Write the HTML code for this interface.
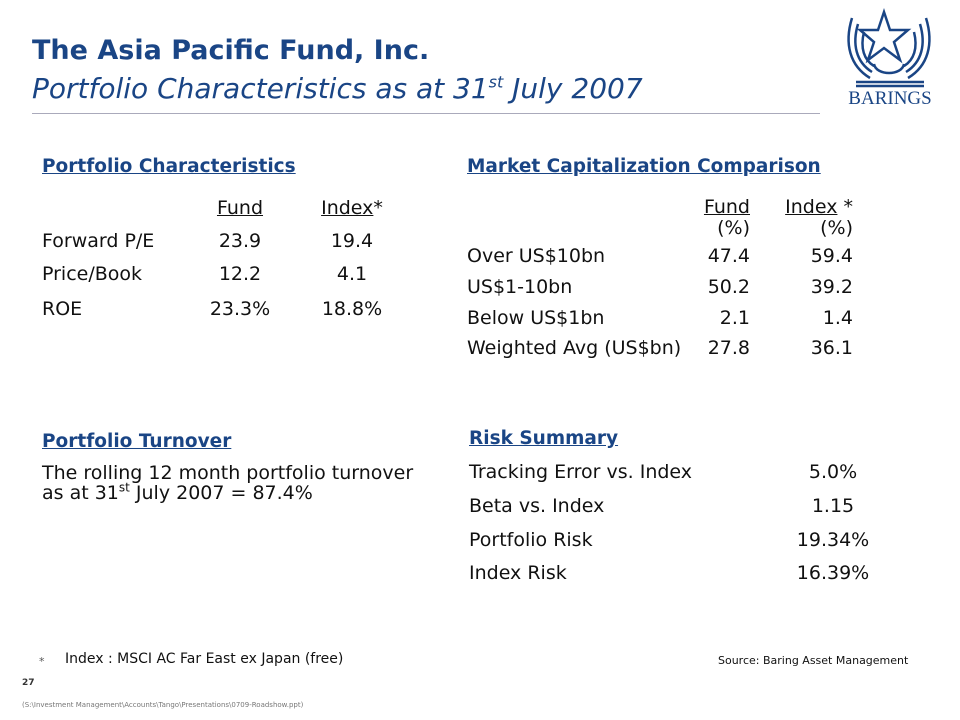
<!DOCTYPE html>
<html><head><meta charset="utf-8"><style>
body{margin:0;width:960px;height:720px;background:#fff;position:relative;overflow:hidden;font-family:"DejaVu Sans","Liberation Sans",sans-serif;color:#111}
.a{position:absolute;white-space:nowrap;font-size:19px;line-height:20px}
.h{font-weight:bold;color:#1a4585;text-decoration:underline;font-size:18.5px}
.c{text-align:center;width:100px}
.r{text-align:right;width:100px}
sup{font-size:12px;line-height:0}
</style></head><body>
<div class="a" style="left:32px;top:35px;font-size:27px;line-height:32px;font-weight:bold;color:#1a4585">The Asia Pacific Fund, Inc.</div>
<div class="a" style="left:32px;top:73px;font-size:28px;line-height:32px;font-style:italic;color:#1a4585">Portfolio Characteristics as at 31<sup style="font-size:16px">st</sup> July 2007</div>
<div style="position:absolute;left:32px;top:113px;width:788px;height:1px;background:#aab"></div>
<svg style="position:absolute;left:840px;top:4px" width="100" height="104" viewBox="0 0 100 104">
<g fill="none" stroke="#1a4585" stroke-width="2.5">
<path d="M44 8 L50 26 L68 26 L54 38 L60 56 L44 44 L28 56 L34 38 L20 26 L38 26 Z" fill="#fff"/>
<path d="M12 14 C4 40 10 62 30 74"/><path d="M18 20 C12 40 16 58 32 68"/><path d="M24 28 C20 44 24 56 34 62"/>
<path d="M86 14 C94 40 88 62 68 74"/><path d="M80 20 C86 40 82 58 66 68"/><path d="M74 28 C78 44 74 56 64 62"/>
<path d="M34 60 C36 72 62 72 64 60"/>
<path d="M16 78 L84 78"/><path d="M16 82 L84 82"/>
</g>
<text x="50" y="100" text-anchor="middle" font-family="Liberation Serif,serif" font-size="19" fill="#1a4585">BARINGS</text>
</svg>

<div class="a h" style="left:42px;top:157px">Portfolio Characteristics</div>
<div class="a c" style="left:190px;top:198px;text-decoration:underline">Fund</div>
<div class="a c" style="left:302px;top:198px"><u>Index</u>*</div>
<div class="a" style="left:42px;top:231px">Forward P/E</div>
<div class="a c" style="left:190px;top:231px">23.9</div>
<div class="a c" style="left:302px;top:231px">19.4</div>
<div class="a" style="left:42px;top:264px">Price/Book</div>
<div class="a c" style="left:190px;top:264px">12.2</div>
<div class="a c" style="left:302px;top:264px">4.1</div>
<div class="a" style="left:42px;top:299px">ROE</div>
<div class="a c" style="left:190px;top:299px">23.3%</div>
<div class="a c" style="left:302px;top:299px">18.8%</div>

<div class="a h" style="left:467px;top:157px">Market Capitalization Comparison</div>
<div class="a r" style="left:650px;top:197px;text-decoration:underline">Fund</div>
<div class="a r" style="left:650px;top:218px">(%)</div>
<div class="a r" style="left:753px;top:197px"><u>Index</u> *</div>
<div class="a r" style="left:753px;top:218px">(%)</div>
<div class="a" style="left:467px;top:246px">Over US$10bn</div>
<div class="a r" style="left:650px;top:246px">47.4</div>
<div class="a r" style="left:753px;top:246px">59.4</div>
<div class="a" style="left:467px;top:277px">US$1-10bn</div>
<div class="a r" style="left:650px;top:277px">50.2</div>
<div class="a r" style="left:753px;top:277px">39.2</div>
<div class="a" style="left:467px;top:308px">Below US$1bn</div>
<div class="a r" style="left:650px;top:308px">2.1</div>
<div class="a r" style="left:753px;top:308px">1.4</div>
<div class="a" style="left:467px;top:338px">Weighted Avg (US$bn)</div>
<div class="a r" style="left:650px;top:338px">27.8</div>
<div class="a r" style="left:753px;top:338px">36.1</div>

<div class="a h" style="left:42px;top:432px">Portfolio Turnover</div>
<div class="a" style="left:42px;top:463px">The rolling 12 month portfolio turnover<br>as at 31<sup>st</sup> July 2007 = 87.4%</div>

<div class="a h" style="left:469px;top:429px">Risk Summary</div>
<div class="a" style="left:469px;top:462px">Tracking Error vs. Index</div>
<div class="a c" style="left:783px;top:462px">5.0%</div>
<div class="a" style="left:469px;top:496px">Beta vs. Index</div>
<div class="a c" style="left:783px;top:496px">1.15</div>
<div class="a" style="left:469px;top:530px">Portfolio Risk</div>
<div class="a c" style="left:783px;top:530px">19.34%</div>
<div class="a" style="left:469px;top:563px">Index Risk</div>
<div class="a c" style="left:783px;top:563px">16.39%</div>

<div class="a" style="left:39px;top:652px;font-size:11px;color:#555">*</div>
<div class="a" style="left:65px;top:650px;font-size:14px;line-height:18px">Index : MSCI AC Far East ex Japan (free)</div>
<div class="a" style="left:718px;top:654px;font-size:11px;line-height:14px">Source: Baring Asset Management</div>
<div class="a" style="left:22px;top:678px;font-size:9px;line-height:11px;font-weight:bold;color:#333">27</div>
<div class="a" style="left:22px;top:701px;font-size:7px;line-height:8px;color:#777">(S:\Investment Management\Accounts\Tango\Presentations\0709-Roadshow.ppt)</div>
</body></html>
